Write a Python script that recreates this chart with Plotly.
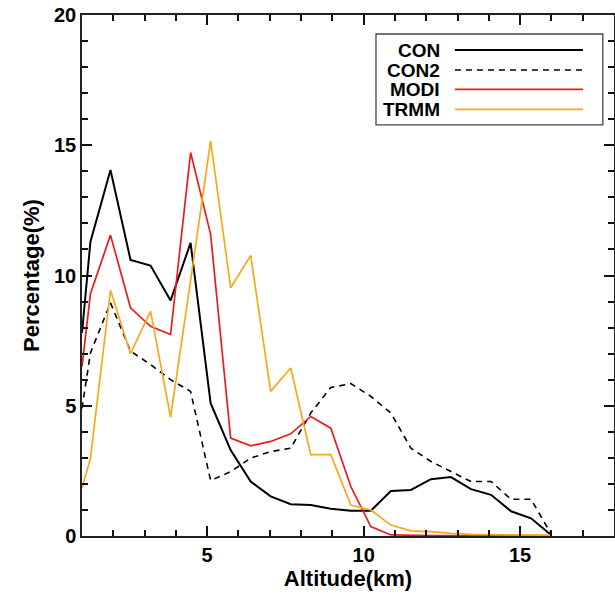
import plotly.graph_objects as go

altitude = [1.0, 1.27, 1.91, 2.55, 3.19, 3.83, 4.47, 5.11, 5.75, 6.39, 7.03, 7.67, 8.31,
            8.95, 9.59, 10.23, 10.87, 11.51, 12.15, 12.79, 13.43, 14.07, 14.71, 15.35, 15.99]

con = [7.8, 11.3, 14.05, 10.6, 10.38, 9.04, 11.25, 5.1, 3.3, 2.09, 1.52, 1.22, 1.19,
       1.05, 0.97, 0.97, 1.73, 1.77, 2.18, 2.26, 1.8, 1.58, 0.95, 0.68, 0.04]
con2 = [4.9, 7.03, 8.95, 7.1, 6.58, 6.0, 5.55, 2.13, 2.47, 2.99, 3.24, 3.37, 4.72,
        5.7, 5.85, 5.36, 4.72, 3.37, 2.86, 2.47, 2.09, 2.09, 1.41, 1.41, 0.08]
modi = [6.5, 9.3, 11.55, 8.76, 8.05, 7.73, 14.72, 11.58, 3.76, 3.46, 3.63, 3.92, 4.59,
        4.14, 1.9, 0.36, 0.04, 0.02, 0.02, 0.02, 0.02, 0.02, 0.02, 0.02, 0.0]
trmm = [1.83, 2.99, 9.43, 7.0, 8.63, 4.56, 9.8, 15.17, 9.53, 10.77, 5.55, 6.45, 3.12,
        3.12, 1.19, 1.0, 0.42, 0.2, 0.17, 0.1, 0.06, 0.05, 0.04, 0.04, 0.03]

series_names = ["CON", "CON2", "MODI", "TRMM"]
series_values = [con, con2, modi, trmm]
colors = ["#000000", "#000000", "#ec1c1c", "#f7a81b"]
dashes = ["solid", "6px,5px", "solid", "solid"]
widths = [2, 1.6, 1.7, 1.7]

x_ticks = [5, 10, 15]
y_ticks = [0, 5, 10, 15, 20]
x_range = [1, 18]
y_range = [0, 20]
minor_step = 1

FONT = "Liberation Sans, Arial, sans-serif"

fig = go.Figure()
for name, vals, c, d, w in zip(series_names, series_values, colors, dashes, widths):
    fig.add_trace(go.Scatter(x=altitude, y=vals, mode="lines", name=name,
                             line=dict(color=c, dash=d, width=w), showlegend=False))
# transparent trace that holds the overlay axes used for the minor ticks
fig.add_trace(go.Scatter(x=x_range, y=y_range, xaxis="x2", yaxis="y2", mode="markers",
                         marker=dict(opacity=0, size=1), showlegend=False, hoverinfo="skip"))

# custom legend (text left of line, as in the original)
leg_y = [0.9328, 0.8944, 0.8574, 0.819]
fig.add_shape(type="rect", xref="paper", yref="paper", x0=0.5526, x1=0.979, y0=0.789, y1=0.9635,
              line=dict(color="#444", width=1.3), fillcolor="white", layer="above")
for name, c, d, w, yy in zip(series_names, colors, dashes, widths, leg_y):
    fig.add_shape(type="line", xref="paper", yref="paper", x0=0.701, x1=0.9417, y0=yy, y1=yy,
                  line=dict(color=c, dash=d, width=w), layer="above")
    fig.add_annotation(xref="paper", yref="paper", x=0.6767, y=yy, text="<b>%s</b>" % name,
                       showarrow=False, xanchor="right", yanchor="middle",
                       font=dict(family=FONT, size=19, color="black"))

tickfont = dict(family=FONT, size=20, color="black", weight="bold")
major_common = dict(showline=True, linecolor="#222", linewidth=1.5, mirror="allticks",
                    ticks="inside", ticklen=10, tickwidth=2, tickcolor="#111",
                    showgrid=False, zeroline=False)
minor_common = dict(showline=False, mirror="allticks", ticks="inside", ticklen=6,
                    tickwidth=1.6, tickcolor="#111", showgrid=False, zeroline=False,
                    showticklabels=False, tickmode="linear", tick0=0, dtick=minor_step)

fig.update_layout(
    xaxis=dict(range=x_range, tickmode="linear", tick0=x_ticks[0], dtick=x_ticks[1] - x_ticks[0],
               tickfont=tickfont,
               title=dict(text="Altitude(km)", standoff=4,
                          font=dict(family=FONT, size=22, color="black", weight="bold")),
               **major_common),
    yaxis=dict(range=y_range, tickmode="linear", tick0=y_ticks[0], dtick=y_ticks[1] - y_ticks[0],
               tickfont=tickfont,
               title=dict(text="Percentage(%)", standoff=8,
                          font=dict(family=FONT, size=22, color="black", weight="bold")),
               **major_common),
    xaxis2=dict(range=x_range, overlaying="x", side="bottom", anchor="y2", **minor_common),
    yaxis2=dict(range=y_range, overlaying="y", side="left", anchor="x2", **minor_common),
    width=615, height=595,
    margin=dict(l=82, r=1, t=15, b=59, autoexpand=False),
    plot_bgcolor="white", paper_bgcolor="white",
    font=dict(family=FONT, size=18, color="black"),
)

post = ("document.body.style.margin='0px';document.body.style.padding='0px';"
        "document.documentElement.style.overflow='hidden';"
        "Plotly.relayout('{plot_id}', {width: 615, height: 595});")
fig.write_html("out.html", post_script=post, config={"displayModeBar": False})
